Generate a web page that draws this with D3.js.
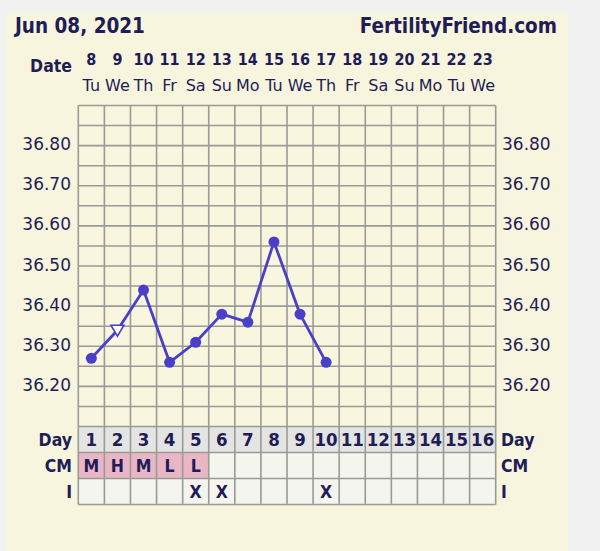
<!DOCTYPE html>
<html>
<head>
<meta charset="utf-8">
<script src="https://cdn.jsdelivr.net/npm/d3@7"></script>
<style>
  html, body { margin: 0; padding: 0; background: #f1f1f1; }
  svg { display: block; }
</style>
</head>
<body>
<div id="chart"></div>
<script>
// chart values
var title = "Jun 08, 2021";
var site = "FertilityFriend.com";
var dates = [8, 9, 10, 11, 12, 13, 14, 15, 16, 17, 18, 19, 20, 21, 22, 23];
var weekdays = ["Tu", "We", "Th", "Fr", "Sa", "Su", "Mo", "Tu", "We", "Th", "Fr", "Sa", "Su", "Mo", "Tu", "We"];
var cycleDays = [1, 2, 3, 4, 5, 6, 7, 8, 9, 10, 11, 12, 13, 14, 15, 16];
var temps = [36.27, 36.34, 36.44, 36.26, 36.31, 36.38, 36.36, 36.56, 36.38, 36.26];
var tempMarks = ["dot", "tri", "dot", "dot", "dot", "dot", "dot", "dot", "dot", "dot"];
var cm = ["M", "H", "M", "L", "L"];
var intercourse = ["", "", "", "", "X", "X", "", "", "", "X"];
var tempTicks = [36.20, 36.30, 36.40, 36.50, 36.60, 36.70, 36.80];

function drawit() {
	var width = 600, height = 551;
	var navy = "#1f1c57";
	var gridc = "#9a9a96";
	var lineColor = "#4a3fc8";
	var font = "DejaVu Sans, Verdana, sans-serif";
	var bold = "DejaVu Sans Condensed, DejaVu Sans, sans-serif";

	var left = 78.3, right = 495.7;
	var top = 105.5, bottom = 426.5;
	var rowH = 26;

	var svg = d3.select("#chart").append("svg")
		.attr("width", width)
		.attr("height", height);

	// panel
	svg.append("rect")
		.attr("x", 6).attr("y", 12.5)
		.attr("width", 562).attr("height", height)
		.attr("fill", "#f7f5dd");

	var x = d3.scaleLinear().domain([0, dates.length]).range([left, right]);
	var cx = function(i) { return x(i + 0.5) };
	var y = d3.scaleLinear().domain([36.10, 36.90]).range([bottom, top]);

	// title
	svg.append("text")
		.attr("x", 15).attr("y", 33)
		.attr("font-family", bold).attr("font-weight", "bold").attr("font-size", 20.5)
		.attr("fill", navy).text(title);
	svg.append("text")
		.attr("x", 557).attr("y", 33).attr("text-anchor", "end")
		.attr("font-family", bold).attr("font-weight", "bold").attr("font-size", 20.5)
		.attr("fill", navy).text(site);

	// date header
	svg.append("text")
		.attr("x", 72).attr("y", 72).attr("text-anchor", "end")
		.attr("font-family", bold).attr("font-weight", "bold").attr("font-size", 17.5)
		.attr("fill", navy).text("Date");

	svg.selectAll("text.date")
		.data(dates)
		.enter()
		.append("text")
		.attr("class", "date")
		.attr("x", function(d, i) { return cx(i) })
		.attr("y", 65)
		.attr("text-anchor", "middle")
		.attr("font-family", bold)
		.attr("font-weight", "bold").attr("font-size", 16)
		.attr("fill", navy)
		.text(function(d) { return d });

	svg.selectAll("text.wd")
		.data(weekdays)
		.enter()
		.append("text")
		.attr("class", "wd")
		.attr("x", function(d, i) { return cx(i) })
		.attr("y", 91)
		.attr("text-anchor", "middle")
		.attr("font-family", font).attr("font-size", 16)
		.attr("fill", navy)
		.text(function(d) { return d });

	// temperature grid background
	svg.append("rect")
		.attr("x", left).attr("y", top)
		.attr("width", right - left).attr("height", bottom - top)
		.attr("fill", "#f8f6de");

	// table rows
	var rows = [
		{label: "Day", vals: cycleDays, fill: function() { return "#e4e4e2" }},
		{label: "CM", vals: cycleDays.map(function(d, i) { return cm[i] || "" }),
		 fill: function(v) { return v ? "#e8b6c5" : "#f5f5ef" }},
		{label: "I", vals: cycleDays.map(function(d, i) { return intercourse[i] || "" }),
		 fill: function() { return "#f5f5ef" }}
	];

	rows.forEach(function(row, r) {
		var ry = bottom + r * rowH;
		var g = svg.append("g");
		g.selectAll("rect")
			.data(row.vals)
			.enter()
			.append("rect")
			.attr("x", function(d, i) { return x(i) })
			.attr("y", ry)
			.attr("width", x(1) - x(0))
			.attr("height", rowH)
			.attr("fill", function(d) { return row.fill(d) });
		g.selectAll("text")
			.data(row.vals)
			.enter()
			.append("text")
			.attr("x", function(d, i) { return cx(i) })
			.attr("y", ry + rowH / 2 + 6.5)
			.attr("text-anchor", "middle")
			.attr("font-family", bold).attr("font-weight", "bold")
			.attr("font-size", r == 0 ? 18.5 : 17.5)
			.attr("fill", navy)
			.text(function(d) { return d });
		svg.append("text")
			.attr("x", 72).attr("y", ry + rowH / 2 + 6.5).attr("text-anchor", "end")
			.attr("font-family", bold).attr("font-weight", "bold").attr("font-size", 17.5)
			.attr("fill", navy).text(row.label);
		svg.append("text")
			.attr("x", 501).attr("y", ry + rowH / 2 + 6.5)
			.attr("font-family", bold).attr("font-weight", "bold").attr("font-size", 17.5)
			.attr("fill", navy).text(row.label);
	});

	// grid lines
	var hvals = d3.range(0, 17).map(function(k) { return 36.10 + k * 0.05 });
	svg.append("g").selectAll("line")
		.data(hvals)
		.enter()
		.append("line")
		.attr("x1", left).attr("x2", right)
		.attr("y1", function(d) { return y(d) })
		.attr("y2", function(d) { return y(d) })
		.attr("stroke", gridc).attr("stroke-width", 1.6);
	svg.append("g").selectAll("line")
		.data([1, 2, 3])
		.enter()
		.append("line")
		.attr("x1", left).attr("x2", right)
		.attr("y1", function(d) { return bottom + d * rowH })
		.attr("y2", function(d) { return bottom + d * rowH })
		.attr("stroke", gridc).attr("stroke-width", 1.6);
	svg.append("g").selectAll("line")
		.data(d3.range(0, dates.length + 1))
		.enter()
		.append("line")
		.attr("x1", function(d) { return x(d) })
		.attr("x2", function(d) { return x(d) })
		.attr("y1", top).attr("y2", bottom + 3 * rowH)
		.attr("stroke", gridc).attr("stroke-width", 1.6);

	// temperature labels
	["left", "right"].forEach(function(side) {
		svg.append("g").selectAll("text")
			.data(tempTicks)
			.enter()
			.append("text")
			.attr("x", side == "left" ? 71 : 502)
			.attr("y", function(d) { return y(d) + 4.5 })
			.attr("text-anchor", side == "left" ? "end" : "start")
			.attr("font-family", font).attr("font-size", 17)
			.attr("fill", navy)
			.text(function(d) { return d.toFixed(2) });
	});

	// temperature line
	var line = d3.line()
		.x(function(d, i) { return cx(i) })
		.y(function(d) { return y(d) });
	svg.append("path")
		.datum(temps)
		.attr("d", line)
		.attr("fill", "none")
		.attr("stroke", lineColor)
		.attr("stroke-width", 2.8)
		.attr("stroke-linejoin", "round");

	temps.forEach(function(t, i) {
		var px = cx(i), py = y(t);
		if (tempMarks[i] == "dot") {
			svg.append("circle")
				.attr("cx", px).attr("cy", py).attr("r", 5.5)
				.attr("fill", lineColor);
		} else {
			svg.append("path")
				.attr("d", "M" + (px - 6.5) + "," + (py - 5) + "L" + (px + 6.5) + "," + (py - 5) + "L" + px + "," + (py + 6) + "Z")
				.attr("fill", "#ffffff")
				.attr("stroke", lineColor)
				.attr("stroke-width", 1.6);
		}
	});
};

drawit();
</script>
</body>
</html>
